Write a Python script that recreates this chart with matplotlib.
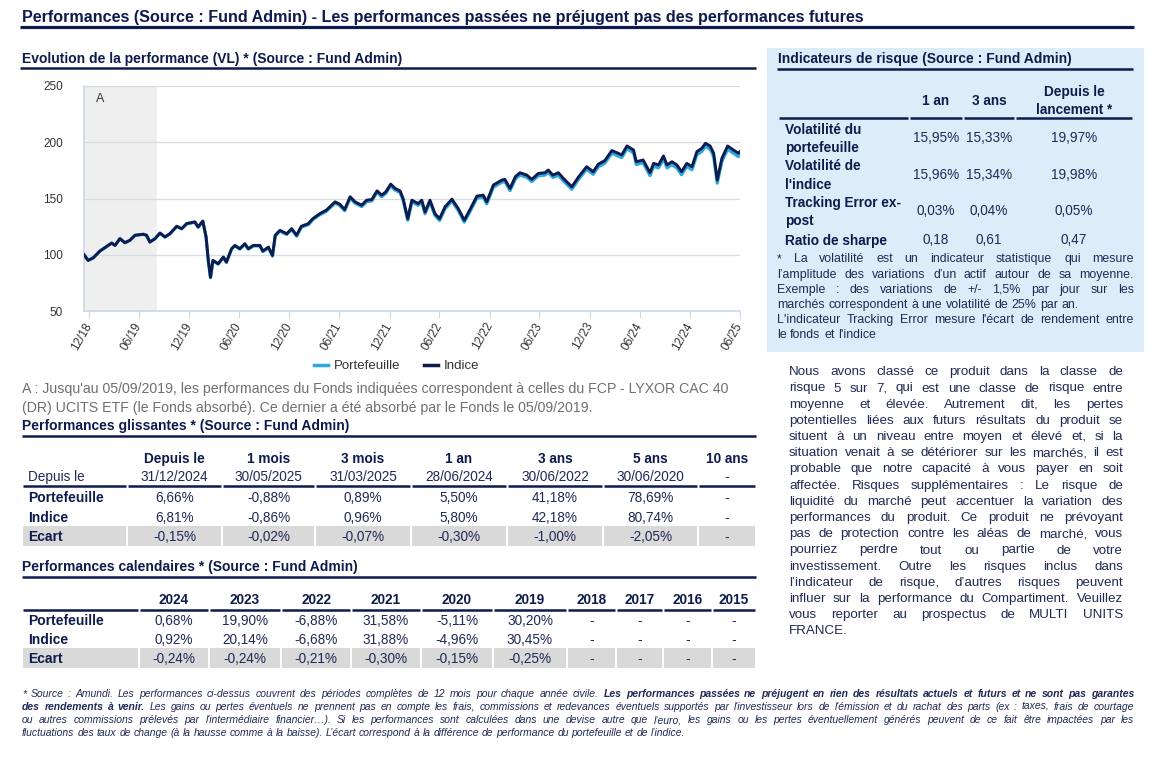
import pandas as pd
import matplotlib
matplotlib.use("Agg")
import matplotlib.pyplot as plt
from matplotlib.lines import Line2D
from matplotlib.patches import Rectangle

plt.rcParams["font.family"] = ["Liberation Sans", "DejaVu Sans"]

dates = ["2018-12-13", "2018-12-28", "2019-01-16", "2019-02-09", "2019-03-06", "2019-03-24", "2019-04-05",
         "2019-04-23", "2019-05-11", "2019-05-29", "2019-06-17", "2019-07-17", "2019-07-29", "2019-08-10",
         "2019-08-29", "2019-09-16", "2019-10-04", "2019-10-22", "2019-11-16", "2019-12-04", "2019-12-22",
         "2020-01-21", "2020-02-02", "2020-02-19", "2020-03-02", "2020-03-10", "2020-03-18", "2020-03-27",
         "2020-04-15", "2020-05-04", "2020-05-15", "2020-06-03", "2020-06-15", "2020-07-03", "2020-07-21",
         "2020-08-03", "2020-08-21", "2020-09-14", "2020-09-25", "2020-10-15", "2020-10-30", "2020-11-09",
         "2020-11-26", "2020-12-21", "2021-01-08", "2021-01-26", "2021-02-12", "2021-03-10", "2021-03-26",
         "2021-04-21", "2021-05-14", "2021-06-15", "2021-07-02", "2021-07-20", "2021-08-09", "2021-08-27",
         "2021-09-20", "2021-10-08", "2021-10-27", "2021-11-15", "2021-12-02", "2021-12-17", "2022-01-04",
         "2022-01-20", "2022-02-07", "2022-02-18", "2022-03-07", "2022-03-22", "2022-04-14", "2022-04-27",
         "2022-05-09", "2022-05-27", "2022-06-14", "2022-07-01", "2022-07-21", "2022-08-15", "2022-09-07",
         "2022-09-29", "2022-10-20", "2022-11-14", "2022-12-07", "2022-12-20", "2023-01-13", "2023-02-13",
         "2023-02-24", "2023-03-15", "2023-04-03", "2023-04-20", "2023-05-15", "2023-06-02", "2023-06-26",
         "2023-07-20", "2023-08-01", "2023-08-18", "2023-09-07", "2023-09-25", "2023-10-26", "2023-11-20",
         "2023-12-19", "2024-01-12", "2024-01-31", "2024-02-23", "2024-03-20", "2024-04-12", "2024-04-25",
         "2024-05-14", "2024-06-07", "2024-06-17", "2024-07-12", "2024-08-06", "2024-08-19", "2024-09-06",
         "2024-09-24", "2024-10-07", "2024-10-25", "2024-11-12", "2024-11-29", "2024-12-18", "2025-01-06",
         "2025-01-24", "2025-02-11", "2025-02-24", "2025-03-13", "2025-03-26", "2025-04-08", "2025-04-25",
         "2025-05-16", "2025-06-06", "2025-06-24", "2025-06-30"]

indice = [100.0, 95.0, 97.3, 103.3, 107.4, 110.4, 108.3, 114.3, 110.7, 112.8, 117.3, 118.2, 117.3, 111.3,
          114.3, 119.3, 115.8, 118.7, 125.3, 123.2, 127.7, 129.2, 124.7, 130.0, 115.8, 95.0, 80.0, 95.0,
          92.0, 98.0, 93.5, 105.4, 108.3, 105.4, 109.8, 105.4, 108.3, 108.3, 103.3, 106.8, 99.4, 117.3,
          121.7, 118.7, 123.2, 117.3, 125.3, 127.7, 132.1, 136.6, 139.6, 147.0, 145.0, 140.2, 151.5, 147.0,
          144.0, 148.5, 149.1, 156.8, 153.0, 155.9, 162.8, 158.9, 156.8, 150.0, 132.1, 148.5, 145.5, 148.5,
          138.0, 148.5, 136.6, 132.1, 142.6, 149.4, 141.1, 130.7, 140.2, 152.1, 153.0, 147.0, 161.9, 166.4,
          167.0, 158.9, 169.3, 172.9, 170.8, 167.0, 172.3, 172.9, 175.3, 170.8, 172.9, 167.9, 160.4, 169.3,
          178.3, 173.8, 180.6, 183.6, 192.6, 190.2, 188.7, 196.7, 193.1, 182.7, 184.2, 172.9, 181.2, 179.8,
          187.8, 179.8, 182.7, 179.8, 173.8, 181.2, 178.3, 191.7, 194.6, 199.1, 196.7, 190.2, 166.4, 185.7,
          196.7, 193.1, 190.2, 191.7]

portefeuille = [100.0, 95.0, 97.3, 103.3, 107.4, 110.4, 108.3, 114.3, 110.7, 112.8, 117.3, 118.2, 117.3, 111.3,
                114.3, 119.2, 115.7, 118.5, 125.1, 123.0, 127.4, 128.9, 124.4, 129.7, 115.5, 94.7, 79.7, 94.7,
                91.6, 97.6, 93.1, 105.0, 107.9, 105.0, 109.3, 104.9, 107.8, 107.8, 102.8, 106.2, 98.8, 116.7,
                121.0, 118.0, 122.4, 116.5, 124.5, 126.8, 131.2, 135.6, 138.6, 145.9, 143.9, 139.1, 150.3, 145.8,
                142.8, 147.2, 147.8, 155.5, 151.6, 154.5, 161.3, 157.4, 155.3, 148.5, 130.6, 147.0, 143.9, 146.9,
                136.4, 146.9, 135.0, 130.4, 140.9, 147.7, 139.4, 129.0, 138.4, 150.3, 151.2, 145.2, 160.0, 164.5,
                165.1, 157.0, 167.3, 170.9, 168.8, 165.0, 170.2, 170.8, 173.2, 168.7, 170.7, 165.7, 158.2, 167.1,
                176.0, 171.5, 178.3, 181.3, 190.2, 187.8, 186.3, 194.2, 190.6, 180.2, 181.7, 170.3, 178.6, 177.2,
                185.2, 177.2, 180.0, 177.1, 171.1, 178.5, 175.6, 188.9, 191.8, 196.3, 193.9, 187.4, 163.6, 182.9,
                193.8, 190.2, 187.3, 188.8]

merge_date = "2019-09-05"
tick_dates = ["2018-12-31", "2019-06-30", "2019-12-31", "2020-06-30", "2020-12-31", "2021-06-30", "2021-12-31",
              "2022-06-30", "2022-12-31", "2023-06-30", "2023-12-31", "2024-06-30", "2024-12-31", "2025-06-30"]
tick_labels = ["12/18", "06/19", "12/19", "06/20", "12/20", "06/21", "12/21",
               "06/22", "12/22", "06/23", "12/23", "06/24", "12/24", "06/25"]

gl_top = ["Depuis le", "1 mois", "3 mois", "1 an", "3 ans", "5 ans", "10 ans"]
gl_dates = ["31/12/2024", "30/05/2025", "31/03/2025", "28/06/2024", "30/06/2022", "30/06/2020", "-"]
gl_port = ["6,66%", "-0,88%", "0,89%", "5,50%", "41,18%", "78,69%", "-"]
gl_ind = ["6,81%", "-0,86%", "0,96%", "5,80%", "42,18%", "80,74%", "-"]
gl_ecart = ["-0,15%", "-0,02%", "-0,07%", "-0,30%", "-1,00%", "-2,05%", "-"]

cal_years = ["2024", "2023", "2022", "2021", "2020", "2019", "2018", "2017", "2016", "2015"]
cal_port = ["0,68%", "19,90%", "-6,88%", "31,58%", "-5,11%", "30,20%", "-", "-", "-", "-"]
cal_ind = ["0,92%", "20,14%", "-6,68%", "31,88%", "-4,96%", "30,45%", "-", "-", "-", "-"]
cal_ecart = ["-0,24%", "-0,24%", "-0,21%", "-0,30%", "-0,15%", "-0,25%", "-", "-", "-", "-"]

row_names = ["Portefeuille", "Indice", "Ecart"]

risk_cols = ["1 an", "3 ans", "Depuis le\nlancement *"]
risk_rows = ["Volatilité du\nportefeuille", "Volatilité de\nl'indice", "Tracking Error ex-\npost", "Ratio de sharpe"]
risk_vals = [["15,95%", "15,33%", "19,97%"],
             ["15,96%", "15,34%", "19,98%"],
             ["0,03%", "0,04%", "0,05%"],
             ["0,18", "0,61", "0,47"]]

risk_note = ["* La volatilité est un indicateur statistique qui mesure",
             "l’amplitude des variations d’un actif autour de sa moyenne.",
             "Exemple : des variations de +/- 1,5% par jour sur les",
             "marchés correspondent à une volatilité de 25% par an.",
             "L'indicateur Tracking Error mesure l'écart de rendement entre",
             "le fonds et l'indice"]

risk_text = ["Nous avons classé ce produit dans la classe de",
             "risque 5 sur 7, qui est une classe de risque entre",
             "moyenne et élevée. Autrement dit, les pertes",
             "potentielles liées aux futurs résultats du produit se",
             "situent à un niveau entre moyen et élevé et, si la",
             "situation venait à se détériorer sur les marchés, il est",
             "probable que notre capacité à vous payer en soit",
             "affectée. Risques supplémentaires : Le risque de",
             "liquidité du marché peut accentuer la variation des",
             "performances du produit. Ce produit ne prévoyant",
             "pas de protection contre les aléas de marché, vous",
             "pourriez perdre tout ou partie de votre",
             "investissement. Outre les risques inclus dans",
             "l’indicateur de risque, d’autres risques peuvent",
             "influer sur la performance du Compartiment. Veuillez",
             "vous reporter au prospectus de MULTI UNITS",
             "FRANCE."]

# ---- page helpers (pixel coords, origin top-left) ----
W, H = 1164, 772
NAVY = "#0d1b4d"
TXT = "#1f2a55"
LIGHT = "#29a9e1"
GREY_TXT = "#6f6f6f"

fig = plt.figure(figsize=(W / 100, H / 100), dpi=100)
renderer = fig.canvas.get_renderer()


def fx(x):
    return x / W


def fy(y):
    return 1 - y / H


def txt(x, y, s, **kw):
    # y is the middle of the capitals unless va is given
    kw.setdefault("color", TXT)
    if "va" not in kw:
        kw["va"] = "baseline"
        y = y + 0.36 * kw.get("fontsize", 10) * 100 / 72
    return fig.text(fx(x), fy(y), s, **kw)


def hline(x0, x1, y, lw=2, color=NAVY):
    fig.add_artist(Line2D([fx(x0), fx(x1)], [fy(y), fy(y)], lw=lw, color=color,
                          transform=fig.transFigure, solid_capstyle="butt"))


def box(x0, y0, x1, y1, color):
    fig.add_artist(Rectangle((fx(x0), fy(y1)), (x1 - x0) / W, (y1 - y0) / H, color=color, lw=0,
                             transform=fig.transFigure, zorder=0))


def words(s, weight="normal"):
    return [(w, weight) for w in s.split()]


def justified(lines, x0, x1, y0, dy, size, color=TXT, style="normal", keep=()):
    probe = fig.text(0, 0, "x x", fontsize=size, style=style)
    probe2 = fig.text(0, 0, "xx", fontsize=size, style=style)
    space = probe.get_window_extent(renderer).width - probe2.get_window_extent(renderer).width
    probe.remove()
    probe2.remove()
    for i, line in enumerate(lines):
        toks = words(line) if isinstance(line, str) else line
        arts, widths = [], []
        for w, weight in toks:
            t = txt(0, y0 + i * dy, w, fontsize=size, color=color, fontweight=weight, style=style)
            arts.append(t)
            widths.append(t.get_window_extent(renderer).width)
        if i == len(lines) - 1 or i in keep or len(toks) < 2:
            gap = space
        else:
            gap = max((x1 - x0 - sum(widths)) / (len(toks) - 1), 0.5 * space)
        x = x0
        for t, w in zip(arts, widths):
            t.set_x(fx(x))
            x += w + gap


# ---- headers ----
txt(22, 16, "Performances (Source : Fund Admin) - Les performances passées ne préjugent pas des performances futures",
    fontsize=11.6, fontweight="bold", color=NAVY)
hline(20, 1134, 27, lw=2.3)

txt(22, 58, "Evolution de la performance (VL) * (Source : Fund Admin)", fontsize=10, fontweight="bold", color=NAVY)
hline(20, 756, 68, lw=1.8)

# ---- performance chart ----
ax = fig.add_axes([fx(84), fy(311), (740 - 84) / W, (311 - 86) / H])
d = pd.to_datetime(dates)
ax.axvspan(d[0], pd.Timestamp(merge_date), color="#efefef", lw=0, zorder=0)
ax.plot(d, portefeuille, color=LIGHT, lw=2.3, zorder=3)
ax.plot(d, indice, color=NAVY, lw=2.1, zorder=4)
ax.set_xlim(d[0], d[-1])
ax.set_ylim(50, 250)
ax.set_yticks([50, 100, 150, 200, 250])
ax.grid(axis="y", color="#d6dce4", lw=0.9)
ax.set_axisbelow(True)
ax.set_xticks(pd.to_datetime(tick_dates))
ax.set_xticklabels(tick_labels, rotation=60, ha="right", va="center", rotation_mode="anchor",
                   fontsize=8.5, color="#333333")
ax.tick_params(axis="x", length=5, color="#ccd6eb", pad=4)
ax.tick_params(axis="y", length=0, pad=15, labelsize=8.5, labelcolor="#333333")
for s in ["top", "right"]:
    ax.spines[s].set_visible(False)
for s in ["left", "bottom"]:
    ax.spines[s].set_color("#ccd6eb")
    ax.spines[s].set_linewidth(1.2)
ax.text(0.018, 0.94, "A", transform=ax.transAxes, fontsize=9, color="#333333", va="center")

fig.legend(handles=[Line2D([], [], color=LIGHT, lw=2.5), Line2D([], [], color=NAVY, lw=2.5)],
           labels=["Portefeuille", "Indice"], loc="center", bbox_to_anchor=(fx(397), fy(366)), ncol=2,
           frameon=False, fontsize=9.5, handlelength=1.0, handletextpad=0.5, columnspacing=1.8,
           labelcolor="#333333")

txt(22, 388, "A : Jusqu'au 05/09/2019, les performances du Fonds indiquées correspondent à celles du FCP - LYXOR CAC 40",
    fontsize=10.2, color=GREY_TXT)
txt(22, 407, "(DR) UCITS ETF (le Fonds absorbé). Ce dernier a été absorbé par le Fonds le 05/09/2019.",
    fontsize=10.2, color=GREY_TXT)

# ---- rolling performance table ----
txt(22, 425, "Performances glissantes * (Source : Fund Admin)", fontsize=10, fontweight="bold", color=NAVY)
hline(22, 756, 436, lw=1.8)
gl_edges = [22, 127, 222, 315, 411, 507, 603, 698, 756]
for j in range(len(gl_top)):
    cx = (gl_edges[j + 1] + gl_edges[j + 2]) / 2
    txt(cx, 458, gl_top[j], fontsize=9.8, fontweight="bold", ha="center", color=NAVY)
    txt(cx, 476, gl_dates[j], fontsize=9.8, ha="center")
txt(28, 476, "Depuis le", fontsize=9.8)
for j in range(len(gl_edges) - 1):
    hline(gl_edges[j] + 1, gl_edges[j + 1] - 1, 486, lw=1.8)
    box(gl_edges[j] + 1, 526, gl_edges[j + 1] - 1, 546, "#d9d9d9")
for r, (name, vals) in enumerate(zip(row_names, [gl_port, gl_ind, gl_ecart])):
    y = 497 + r * 19.7
    txt(28, y, name, fontsize=10, fontweight="bold", color=NAVY)
    for j, v in enumerate(vals):
        txt((gl_edges[j + 1] + gl_edges[j + 2]) / 2, y, v, fontsize=9.8, ha="center")

# ---- calendar performance table ----
txt(22, 566, "Performances calendaires * (Source : Fund Admin)", fontsize=10, fontweight="bold", color=NAVY)
hline(22, 756, 577, lw=1.8)
cal_edges = [22, 139, 209, 281, 351, 421, 493, 567, 616, 663, 712, 756]
for j in range(len(cal_edges) - 1):
    hline(cal_edges[j] + 1, cal_edges[j + 1] - 1, 610, lw=1.8)
    box(cal_edges[j] + 1, 648, cal_edges[j + 1] - 1, 668, "#d9d9d9")
for j, yr in enumerate(cal_years):
    txt((cal_edges[j + 1] + cal_edges[j + 2]) / 2, 599, yr, fontsize=9.8, fontweight="bold", ha="center", color=NAVY)
for r, (name, vals) in enumerate(zip(row_names, [cal_port, cal_ind, cal_ecart])):
    y = 620 + r * 19
    txt(28, y, name, fontsize=10, fontweight="bold", color=NAVY)
    for j, v in enumerate(vals):
        txt((cal_edges[j + 1] + cal_edges[j + 2]) / 2, y, v, fontsize=9.8, ha="center")

# ---- risk panel ----
box(767, 48, 1144, 352, "#dcedf9")
txt(778, 58, "Indicateurs de risque (Source : Fund Admin)", fontsize=10, fontweight="bold", color=NAVY)
hline(777, 1133, 69, lw=1.8)
risk_edges = [778, 909, 963, 1015, 1133]
for j in range(len(risk_edges) - 1):
    hline(risk_edges[j] + 1, risk_edges[j + 1] - 1, 118, lw=1.8)
for j, c in enumerate(risk_cols):
    txt((risk_edges[j + 1] + risk_edges[j + 2]) / 2, 101, c, fontsize=9.8, fontweight="bold", ha="center",
        va="center", color=NAVY, linespacing=1.45)
for r, (name, vals) in enumerate(zip(risk_rows, risk_vals)):
    y = 137.5 + r * 36.5
    if r == 3:
        y = 239
    txt(785, y + 1.5, name, fontsize=9.8, fontweight="bold", color=NAVY, va="center", linespacing=1.45)
    for j, v in enumerate(vals):
        txt((risk_edges[j + 1] + risk_edges[j + 2]) / 2, y, v, fontsize=9.8, ha="center")
justified(risk_note, 777, 1134, 258, 15.1, 8.9, keep=(3,))

justified(risk_text, 789, 1123, 370.5, 16.2, 9.6)

# ---- footer ----
foot = [words("* Source : Amundi. Les performances ci-dessus couvrent des périodes complètes de 12 mois pour "
              "chaque année civile.")
        + words("Les performances passées ne préjugent en rien des résultats actuels et futurs et ne sont pas "
                "garantes", "bold"),
        words("des rendements à venir.", "bold")
        + words("Les gains ou pertes éventuels ne prennent pas en compte les frais, commissions et redevances "
                "éventuels supportés par l'investisseur lors de l'émission et du rachat des parts (ex : taxes, "
                "frais de courtage"),
        words("ou autres commissions prélevés par l'intermédiaire financier…). Si les performances sont calculées "
              "dans une devise autre que l’euro, les gains ou les pertes éventuellement générés peuvent de ce "
              "fait être impactées par les"),
        words("fluctuations des taux de change (à la hausse comme à la baisse). L’écart correspond à la "
              "différence de performance du portefeuille et de l’indice.")]
justified(foot, 22, 1134, 693, 13.2, 7.5, style="italic")

fig.savefig("out.png", dpi=100)
